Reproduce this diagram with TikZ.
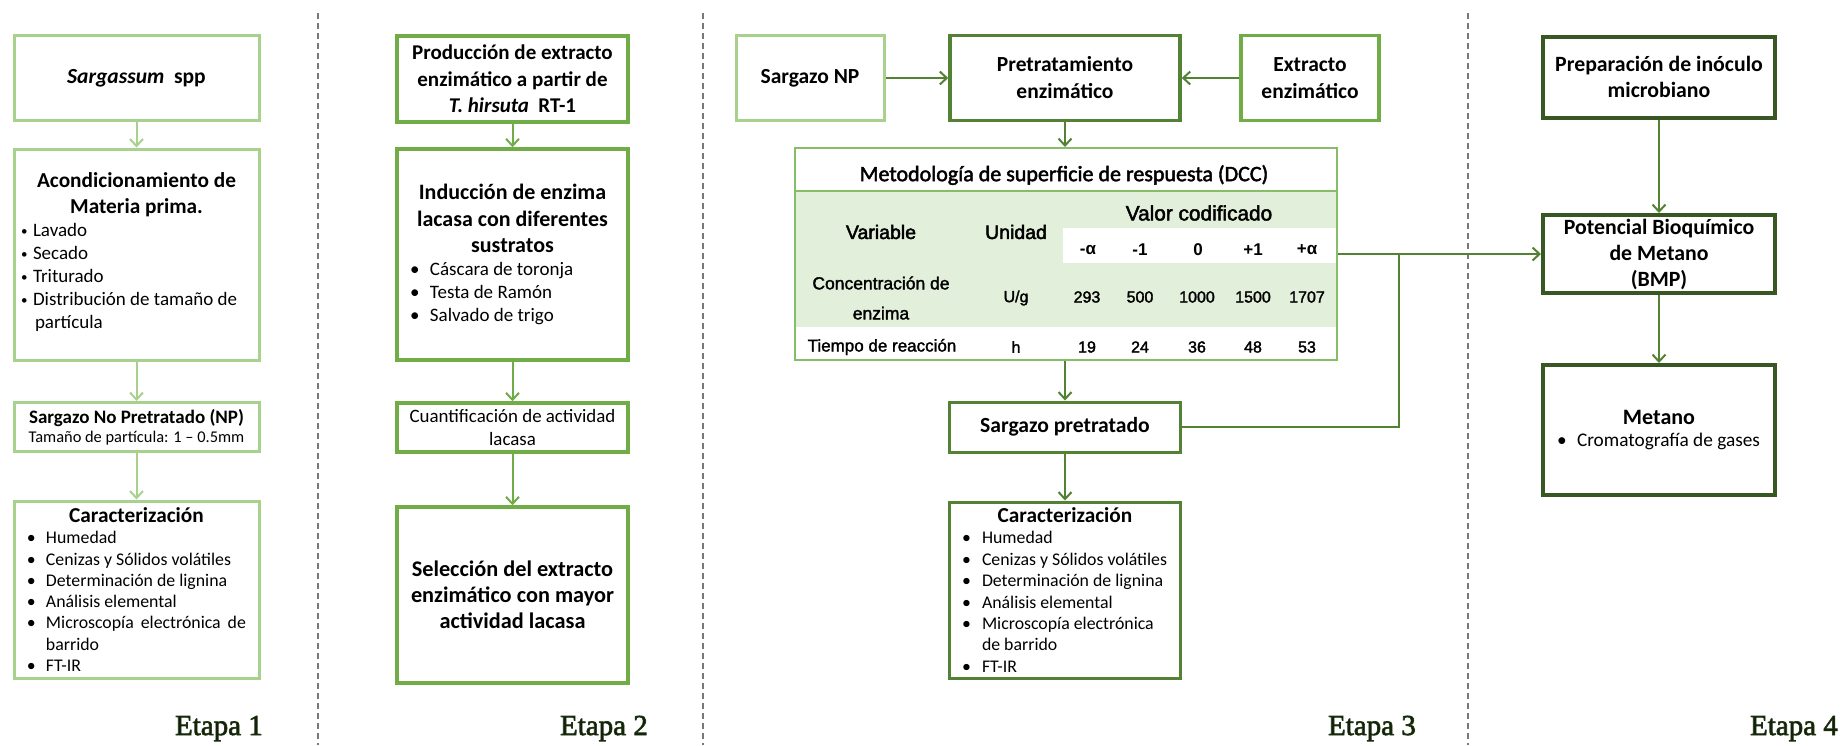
\documentclass[tikz,border=0pt]{standalone}
\usepackage{fontspec}
\setmainfont{Carlito}
\newfontfamily\arialf{Liberation Sans}
\newfontfamily\timesf{Liberation Serif}
\usetikzlibrary{arrows.meta}
\definecolor{gA}{RGB}{169,209,142}
\definecolor{gB}{RGB}{112,173,71}
\definecolor{gC}{RGB}{84,130,53}
\definecolor{gD}{RGB}{56,87,35}
\definecolor{gT}{RGB}{135,188,105}
\definecolor{shadeg}{RGB}{226,239,218}
\definecolor{dashg}{RGB}{120,120,120}
\newcommand{\fs}[2]{\fontsize{#1}{#2}\selectfont}
\newcommand{\bul}[1]{\makebox[#1][l]{•}}
\newcommand{\sbul}[1]{\makebox[#1][l]{\raisebox{1pt}{\fs{13}{13}•}}}
\newcommand{\heavy}[1]{\special{pdf:literal direct 2 Tr 0.7 w 0.12 0.2 0.07 RG}#1\special{pdf:literal direct 0 Tr}}
\newcommand{\semi}[1]{\special{pdf:literal direct 2 Tr 0.45 w 0 0 0 RG}#1\special{pdf:literal direct 0 Tr}}
\newcommand{\semil}[1]{\special{pdf:literal direct 2 Tr 0.3 w 0 0 0 RG}#1\special{pdf:literal direct 0 Tr}}
\begin{document}
\begin{tikzpicture}[x=1pt,y=-1pt,
  box/.style={draw, rectangle, inner sep=0pt, text=black, fill=white},
  b1/.style={box, draw=gA, line width=3pt},
  b2/.style={box, draw=gB, line width=3.5pt},
  b3/.style={box, draw=gC, line width=3.5pt},
  b4/.style={box, draw=gD, line width=4pt},
  tip/.style={-{Straight Barb[length=7pt,width=13pt]}},
  arr1/.style={tip, draw=gA, line width=2pt},
  arr2/.style={tip, draw=gB, line width=2pt},
  arr3/.style={tip, draw=gC, line width=2pt},
  ln3/.style={draw=gC, line width=2pt},
  tt/.style={inner sep=0pt, text=black, font=\arialf\fs{16}{19}},
  etapa/.style={inner sep=0pt, text={rgb,255:red,18;green,32;blue,10}, font=\timesf\fs{29}{32}},
  sep/.style={draw=dashg, line width=1.5pt, dash pattern=on 6pt off 4pt}
]
\useasboundingbox (0,0) rectangle (1844,745);
\fill[white] (0,0) rectangle (1844,745);

% separators
\draw[sep] (318,13) -- (318,745);
\draw[sep] (703,13) -- (703,745);
\draw[sep] (1468,13) -- (1468,745);

% ---------- Etapa 1
\node[b1, minimum width=245pt, minimum height=85pt] (s1) at (136.5,78)
  {\fs{21.5}{25}\bfseries\itshape Sargassum\upshape\ \ spp};
\node[b1, minimum width=245pt, minimum height=211pt] (a1) at (136.5,254.5)
  {\parbox{231pt}{\centering\bfseries\fs{21.3}{26}Acondicionamiento de\\Materia prima.\par
   \raggedright\mdseries\fs{19}{23}\sbul{12pt}Lavado\\
   \sbul{12pt}Secado\\
   \sbul{12pt}Triturado\\
   \sbul{12pt}Distribución de tamaño de\\
   \hspace*{14pt}partícula\par\vspace*{4pt}}};
\node[b1, minimum width=245pt, minimum height=49pt] (n1) at (136.5,427)
  {\parbox{240pt}{\centering{\bfseries\fs{19}{21}Sargazo No Pretratado (NP)\par}
   \fs{16.4}{19}Tamaño de partícula: 1 – 0.5mm}};
\node[b1, minimum width=245pt, minimum height=177pt] (c1) at (136.5,589.5)
  {\parbox{219pt}{\centering\bfseries\fs{21.3}{23}Caracterización\par
   \raggedright\mdseries\fs{17.8}{21.3}\bul{19pt}Humedad\\
   \bul{19pt}Cenizas y Sólidos volátiles\\
   \bul{19pt}Determinación de lignina\\
   \bul{19pt}Análisis elemental\\
   \bul{19pt}\makebox[200pt][s]{Microscopía electrónica de}\\
   \hspace*{19pt}barrido\\
   \bul{19pt}FT-IR}};
\draw[arr1] (s1.south) -- (a1.north);
\draw[arr1] (a1.south) -- (n1.north);
\draw[arr1] (n1.south) -- (c1.north);

% ---------- Etapa 2
\node[b2, minimum width=231pt, minimum height=86pt] (p2) at (512.5,79)
  {\parbox{228pt}{\centering\bfseries\fs{21}{26.7}Producción de extracto\\enzimático a partir de\\\textit{T. hirsuta}\ \ RT-1}};
\node[b2, minimum width=231pt, minimum height=211pt] (i2) at (512.5,254.5)
  {\parbox{205pt}{\centering\bfseries\fs{22}{26.5}Inducción de enzima\\lacasa con diferentes\\sustratos\par
   \raggedright\mdseries\fs{19}{23}\bul{20pt}Cáscara de toronja\\
   \bul{20pt}Testa de Ramón\\
   \bul{20pt}Salvado de trigo}};
\node[b2, minimum width=231pt, minimum height=49pt] (q2) at (512.5,427.5)
  {\parbox{228pt}{\centering\fs{18.9}{23}Cuantificación de actividad\\lacasa}};
\node[b2, minimum width=231pt, minimum height=176pt] (sel2) at (512.5,595)
  {\parbox{228pt}{\centering\bfseries\fs{22.3}{26}Selección del extracto\\enzimático con mayor\\actividad lacasa}};
\draw[arr2] (p2.south) -- (i2.north);
\draw[arr2] (i2.south) -- (q2.north);
\draw[arr2] (q2.south) -- (sel2.north);

% ---------- Etapa 3
\node[b1, minimum width=148pt, minimum height=85pt] (np3) at (810,78)
  {\bfseries\fs{21.5}{25}Sargazo NP};
\node[b3, minimum width=230pt, minimum height=85pt] (pt3) at (1065,78)
  {\parbox{225pt}{\centering\bfseries\fs{21.5}{27}Pretratamiento\\enzimático}};
\node[b2, minimum width=138pt, minimum height=85pt] (ex3) at (1310,78)
  {\parbox{135pt}{\centering\bfseries\fs{21.5}{27}Extracto\\enzimático}};
\draw[arr3] (np3.east) -- (pt3.west);
\draw[arr3] (ex3.west) -- (pt3.east);

% table
\fill[shadeg] (795,191) rectangle (1337,327);
\fill[white] (1063,228) rectangle (1337,263);
\node[draw=gT, line width=2pt, minimum width=542pt, minimum height=212pt, inner sep=0pt] (tbl) at (1066,254) {};
\draw[draw=gT, line width=2pt] (tbl.west |- 0,191) -- (tbl.east |- 0,191);
\node[inner sep=0pt, font=\fs{22}{25}] (tt0) at (1064,175) {\semi{Metodología de superficie de respuesta (DCC)}};
\node[tt, font=\arialf\fs{20.8}{23}] (th1) at (1199,213) {\semi{Valor codificado}};
\node[tt, font=\arialf\fs{19.5}{22}] (th2) at (881,232) {\semi{Variable}};
\node[tt, font=\arialf\fs{19.5}{22}] (th3) at (1016,232) {\semi{Unidad}};
\node[tt, font=\arialf\bfseries\fs{17}{19}] (k1) at (1088,250) {-α};
\node[tt, font=\arialf\bfseries\fs{17}{19}] (k2) at (1140,250) {-1};
\node[tt, font=\arialf\bfseries\fs{17}{19}] (k3) at (1198,250) {0};
\node[tt, font=\arialf\bfseries\fs{17}{19}] (k4) at (1253,250) {+1};
\node[tt, font=\arialf\bfseries\fs{17}{19}] (k5) at (1307,250) {+α};
\node[tt, align=center, font=\arialf\fs{17.5}{30}] (r1) at (881,298) {\semil{Concentración de}\\\semil{enzima}};
\node[tt] (r1u) at (1016,298) {\semil{U/g}};
\node[tt] (r1a) at (1087,297) {\semil{293}};
\node[tt] (r1b) at (1140,297) {\semil{500}};
\node[tt] (r1c) at (1197,297) {\semil{1000}};
\node[tt] (r1d) at (1253,297) {\semil{1500}};
\node[tt] (r1e) at (1307,297) {\semil{1707}};
\node[tt, font=\arialf\fs{17}{19}] (r2) at (882,347) {\semil{Tiempo de reacción}};
\node[tt] (r2u) at (1016,347) {\semil{h}};
\node[tt] (r2a) at (1087,347) {\semil{19}};
\node[tt] (r2b) at (1140,347) {\semil{24}};
\node[tt] (r2c) at (1197,347) {\semil{36}};
\node[tt] (r2d) at (1253,347) {\semil{48}};
\node[tt] (r2e) at (1307,347) {\semil{53}};
\draw[arr3] (pt3.south) -- (tbl.north -| pt3.south);

\node[b3, line width=3pt, minimum width=231pt, minimum height=50pt] (sp3) at (1065,427)
  {\bfseries\fs{21.6}{25}Sargazo pretratado};
\node[b3, line width=3pt, minimum width=231pt, minimum height=176pt] (c3) at (1065,590)
  {\parbox{206pt}{\centering\bfseries\fs{21.3}{23}Caracterización\par
   \raggedright\mdseries\fs{17.8}{21.4}\bul{20pt}Humedad\\
   \bul{20pt}Cenizas y Sólidos volátiles\\
   \bul{20pt}Determinación de lignina\\
   \bul{20pt}Análisis elemental\\
   \bul{20pt}Microscopía electrónica\\
   \hspace*{20pt}de barrido\\
   \bul{20pt}FT-IR}};
\draw[arr3] (tbl.south -| sp3.north) -- (sp3.north);
\draw[arr3] (sp3.south) -- (c3.north);

% ---------- Etapa 4
\node[b4, minimum width=232pt, minimum height=81pt] (pr4) at (1659,77)
  {\parbox{228pt}{\centering\bfseries\fs{21.8}{26}Preparación de inóculo\\microbiano}};
\node[b4, minimum width=232pt, minimum height=78pt] (bmp4) at (1659,254)
  {\parbox{228pt}{\centering\bfseries\fs{21.8}{26}Potencial Bioquímico\\de Metano\\(BMP)}};
\node[b4, minimum width=232pt, minimum height=130pt] (me4) at (1659,430)
  {\parbox{204pt}{\centering\bfseries\fs{22}{25}Metano\par
   \raggedright\mdseries\fs{19.3}{22}\bul{20pt}Cromatografía de gases}};
\draw[arr3] (pr4.south) -- (bmp4.north);
\draw[arr3] (bmp4.south) -- (me4.north);
\draw[arr3] (tbl.east) -- (bmp4.west);
\coordinate (j) at (1399,254);
\draw[ln3] (sp3.east) -| (j);

% stage labels
\node[etapa, anchor=base east] (e1) at (263,735) {\heavy{Etapa 1}};
\node[etapa, anchor=base east] (e2) at (648,735) {\heavy{Etapa 2}};
\node[etapa, anchor=base east] (e3) at (1416,735) {\heavy{Etapa 3}};
\node[etapa, anchor=base east] (e4) at (1838,735) {\heavy{Etapa 4}};
\end{tikzpicture}
\end{document}
